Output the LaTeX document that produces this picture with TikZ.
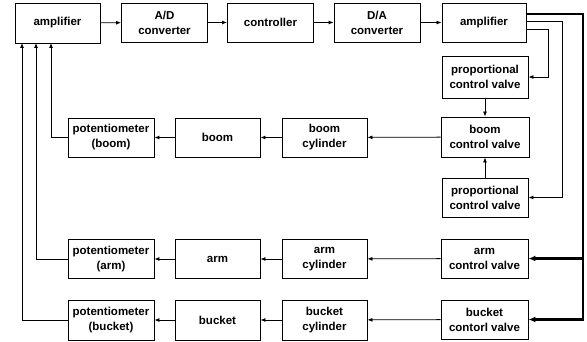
\documentclass[tikz,border=0pt]{standalone}
\usepackage{fontspec}
\setmainfont{Liberation Sans}
\usetikzlibrary{arrows.meta,calc}
\begin{document}
\begin{tikzpicture}[x=1pt,y=-1pt,
  blk/.style={draw,line width=0.9pt,minimum width=86pt,minimum height=39pt,inner sep=1pt,align=center,
    font=\bfseries\fontsize{11.5}{15}\selectfont},
  con/.style={line width=0.8pt,-{Latex[length=5pt,width=4pt]}},
  bus/.style={line width=2.2pt,-{Latex[length=7pt,width=6pt]}},
  ln/.style={line width=0.8pt}]
\useasboundingbox (0,0) rectangle (587,342);
\node[blk,minimum width=85pt,minimum height=40pt] (amp1) at (57.5,23) {amplifier};
\node[blk] (ad) at (164.5,22.5) {A/D\\converter};
\node[blk] (ctrl) at (270.5,22.5) {controller};
\node[blk] (da) at (377,22.5) {D/A\\converter};
\node[blk,minimum width=84pt] (amp2) at (484,22.5) {amplifier};
\node[blk,minimum height=42pt] (pcv1) at (485,77) {proportional\\control valve};
\node[blk,minimum width=88pt,minimum height=40pt] (bcv) at (485,137) {boom\\control valve};
\node[blk,minimum width=86pt] (pcv2) at (485,197.5) {proportional\\control valve};
\node[blk,minimum width=87pt] (acv) at (484.5,258.5) {arm\\control valve};
\node[blk,minimum width=87pt] (kcv) at (484.5,319.5) {bucket\\contorl valve};
\node[blk,minimum width=85pt] (bcyl) at (324.5,137.5) {boom\\cylinder};
\node[blk,minimum width=85pt] (acyl) at (324.5,259) {arm\\cylinder};
\node[blk,minimum width=85pt,minimum height=40pt] (kcyl) at (324.5,320) {bucket\\cylinder};
\node[blk,minimum width=85pt] (boom) at (217.5,137.5) {boom};
\node[blk,minimum width=85pt] (arm) at (217.5,259) {arm};
\node[blk,minimum width=85pt,minimum height=40pt] (bucket) at (217.5,320) {bucket};
\node[blk] (pboom) at (111,137.5) {potentiometer\\(boom)};
\node[blk] (parm) at (111,259) {potentiometer\\(arm)};
\node[blk,minimum height=40pt] (pbucket) at (111,320) {potentiometer\\(bucket)};
% top chain
\draw[con] (amp1) -- (ad);
\draw[con] (ad) -- (ctrl);
\draw[con] (ctrl) -- (da);
\draw[con] (da) -- (amp2);
% valves
\draw[con] (pcv1) -- (bcv);
\draw[con] (pcv2) -- (bcv);
\draw[con] (bcv) -- (bcyl);
\draw[con] (acv) -- (acyl);
\draw[con] (kcv) -- (kcyl);
\draw[con] (bcyl) -- (boom);
\draw[con] (acyl) -- (arm);
\draw[con] (kcyl) -- (bucket);
\draw[con] (boom) -- (pboom);
\draw[con] (arm) -- (parm);
\draw[con] (bucket) -- (pbucket);
% feedback
\coordinate (fb1) at (51,43);
\coordinate (fb2) at (36,43);
\coordinate (fb3) at (22,43);
\draw[con] (pboom.west) -| (fb1);
\draw[con] (parm.west) -| (fb2);
\draw[con] (pbucket.west) -| (fb3);
% amplifier outputs
\coordinate (o1) at (526,29);
\coordinate (o2) at (526,21);
\coordinate (o3) at (526,14);
\coordinate (r1) at (548,29);
\coordinate (r2) at (562,21);
\coordinate (r3) at (583,14);
\draw[con] (o1) -- (r1) |- (pcv1.east);
\draw[con] (o2) -- (r2) |- (pcv2.east);
\draw[bus] (o3) -- (r3) |- (kcv.east);
\coordinate (j) at (583,258.5);
\draw[bus] (j) -- (acv.east);
\end{tikzpicture}
\end{document}
